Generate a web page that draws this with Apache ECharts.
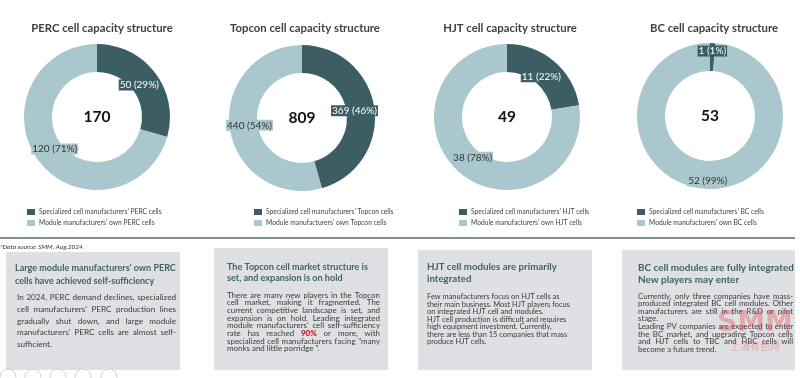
<!DOCTYPE html>
<html><head><meta charset="utf-8">
<script src="https://cdn.jsdelivr.net/npm/echarts@6/dist/echarts.min.js"></script>
<style>html,body{margin:0;padding:0;background:#fff}#c{width:800px;height:378px}</style>
</head><body><div id="c"></div>
<script>
// ---- data ----
const chartTitles = ['PERC cell capacity structure', 'Topcon cell capacity structure', 'HJT cell capacity structure', 'BC cell capacity structure'];
const specializedNames = ["Specialized cell manufacturers' PERC cells", "Specialized cell manufacturers' Topcon cells", "Specialized cell manufacturers' HJT cells", "Specialized cell manufacturers' BC cells"];
const moduleNames = ["Module manufacturers' own PERC cells", "Module manufacturers' own Topcon cells", "Module manufacturers' own HJT cells", "Module manufacturers' own BC cells"];
const specializedValues = [50, 369, 11, 0.6];
const moduleValues = [120, 440, 38, 52.4];
const dataSource = '*Data source: SMM, Aug.2024';

// ---- layout / style ----
const DARK = '#3b5d63', LIGHT = '#a9c7cc';
const centers = [[97, 117], [302, 118], [507, 117], [710, 116]];
const titleCenters = [97, 300, 505, 709];
const titleWidths = [140, 153, 133, 128];
const legendWidths = [123, 126, 120, 115];
const labelRadius = [[27, 73], [27, 73], [27, 73], [51, 73]];
const legendLeft = [27, 254, 459, 637];
const FONT = 'Lato';

const mctx = document.createElement('canvas').getContext('2d');
function tw(text, size, bold) { mctx.font = (bold ? 'bold ' : '') + size + 'px ' + FONT; return mctx.measureText(text).width; }
const sumArr = a => a.reduce((s, v) => s + v, 0);
const titleSize = 10 * sumArr(titleWidths) / sumArr(chartTitles.map(t => tw(t, 10, true)));
const legendSize = 10 * sumArr(legendWidths) / sumArr(specializedNames.map(t => tw(t, 10, false)));

const series = [], titles = [], legends = [], graphics = [];
chartTitles.forEach((t, i) => {
  titles.push({ text: t, left: titleCenters[i], top: 18, textAlign: 'center',
    textStyle: { fontFamily: FONT, fontSize: titleSize, fontWeight: 'bold', color: '#404040' } });
  const data = [
    { name: specializedNames[i], value: specializedValues[i], itemStyle: { color: DARK } },
    { name: moduleNames[i], value: moduleValues[i], itemStyle: { color: LIGHT } }
  ];
  series.push({ type: 'pie', center: centers[i], radius: [45, 73], startAngle: 90, clockwise: true,
    label: { show: false }, labelLine: { show: false }, silent: true, emphasis: { disabled: true },
    data: data });
  series.push({ type: 'pie', center: centers[i], radius: labelRadius[i], startAngle: 90, clockwise: true,
    silent: true, emphasis: { disabled: true }, avoidLabelOverlap: false, labelLine: { show: false },
    itemStyle: { color: 'rgba(0,0,0,0)' },
    label: { show: true, position: 'inside', fontFamily: FONT, fontSize: 10, padding: [1, 1, 0, 1],
      formatter: p => Math.round(p.value) + ' (' + Math.round(p.percent) + '%)' },
    data: [
      { name: specializedNames[i], value: specializedValues[i], label: { backgroundColor: DARK, color: '#fff' } },
      { name: moduleNames[i], value: moduleValues[i], label: { backgroundColor: LIGHT, color: '#333' } }
    ] });
  legends.push({ orient: 'vertical', left: legendLeft[i], top: 208, padding: 0, icon: 'rect', itemWidth: 8, itemHeight: 6,
    itemGap: 3, selectedMode: false,
    textStyle: { fontFamily: FONT, fontSize: legendSize, color: '#444', lineHeight: 8, padding: [0, 0, 0, -1] },
    data: [{ name: specializedNames[i], itemStyle: { color: DARK } }, { name: moduleNames[i], itemStyle: { color: LIGHT } }] });
  const total = Math.round(specializedValues[i] + moduleValues[i]);
  graphics.push({ type: 'text', x: centers[i][0], y: centers[i][1], style: { text: String(total), fontFamily: FONT,
    fontSize: 15.5, fontWeight: 'bold', fill: '#111', align: 'center', verticalAlign: 'middle' } });
});

// separator + source
graphics.push({ type: 'rect', shape: { x: 0, y: 237, width: 795, height: 2 }, style: { fill: '#7e9097' } });
graphics.push({ type: 'text', x: 0, y: 247, style: { text: dataSource, fontFamily: FONT, fontSize: 10 * 87 / tw(dataSource, 10, false),
  fontStyle: 'italic', fill: '#333', verticalAlign: 'middle' } });

// text boxes: lines ending a paragraph are marked with a trailing '|'
const boxes = [
  { x: 6, y: 252, w: 174, h: 118, tx: 15, tyy: [268, 281], tW: 161, bx: 17, bW: 159, justify: true,
    bys: [297, 309, 321, 332.5, 344],
    title: ["Large module manufacturers' own PERC", "cells have achieved self-sufficiency"],
    body: ["In 2024, PERC demand declines, specialized", "cell manufacturers' PERC production lines", "gradually shut down, and large module", "manufacturers' PERC cells are almost self-", "sufficient.|"] },
  { x: 214, y: 248, w: 174, h: 122, tx: 227, tyy: [267, 278.5], tW: 141, bx: 227, bW: 153, justify: true,
    bys: [295, 302.7, 310.4, 318.1, 325.8, 333.5, 341.2, 348.9],
    title: ["The Topcon cell market structure is", "set, and expansion is on hold"],
    body: ["There are many new players in the Topcon", "cell market, making it fragmented. The", "current competitive landscape is set, and", "expansion is on hold. Leading integrated", "module manufacturers' cell self-sufficiency", "rate has reached *90% or more, with", "specialized cell manufacturers facing \"many", "monks and little porridge \".|"] },
  { x: 418, y: 250, w: 174, h: 120, tx: 427, tyy: [267, 278.5], tW: 130, bx: 427, bW: 0, justify: false,
    refW: [134, 135, 114, 152, 122, 138, 64],
    bys: [297, 304.5, 312, 319.5, 327, 334.5, 342],
    title: ["HJT cell modules are primarily", "integrated"],
    body: ["Few manufacturers focus on HJT cells as", "their main business. Most HJT players focus", "on integrated HJT cell and modules.|", "HJT cell production is difficult and requires", "high equipment investment. Currently,", "there are less than 15 companies that mass", "produce HJT cells.|"] },
  { x: 622, y: 250, w: 173, h: 120, tx: 638, tyy: [268, 279.5], tW: 156, bx: 638, bW: 155, justify: true,
    bys: [296, 303.6, 311.2, 318.8, 326.4, 334, 341.6, 349.2],
    title: ["BC cell modules are fully integrated", "New players may enter"],
    body: ["Currently, only three companies have mass-", "produced integrated BC cell modules. Other", "manufacturers are still in the R&D or pilot", "stage.|", "Leading PV companies are expected to enter", "the BC market, and upgrading Topcon cells", "and HJT cells  to TBC and HBC cells  will", "become a future trend.|"] }
];
boxes.forEach(b => {
  graphics.push({ type: 'rect', shape: { x: b.x, y: b.y, width: b.w, height: b.h }, style: { fill: '#dfe0e4' } });
  const tSize = 10 * b.tW / tw(b.title[0], 10, true);
  b.title.forEach((ln, k) => graphics.push({ type: 'text', x: b.tx, y: b.tyy[k], style: { text: ln, fontFamily: FONT,
    fontSize: tSize, fontWeight: 'bold', fill: '#3e6168', verticalAlign: 'middle' } }));
  const clean = s => s.replace('|', '').replace('*', '');
  let bSize;
  if (b.justify) {
    const maxW = Math.max(...b.body.map(s => tw(clean(s), 10, false)));
    bSize = 10 * b.bW * 0.985 / maxW;
  } else {
    const m = b.body.map(s => tw(clean(s), 10, false));
    bSize = 10 * sumArr(m.map((v, k) => v * b.refW[k])) / sumArr(m.map(v => v * v));
  }
  b.body.forEach((ln, k) => {
    const last = ln.endsWith('|');
    const words = ln.replace('|', '').split(/\s+/).filter(Boolean);
    const ws = words.map(wd => tw(wd.replace('*', ''), bSize, wd.startsWith('*')));
    const sum = sumArr(ws);
    const space = tw(' ', bSize, false);
    const gap = (b.justify && !last && words.length > 1) ? (b.bW - sum) / (words.length - 1) : space;
    let x = b.bx;
    words.forEach((wd, j) => {
      const red = wd.startsWith('*');
      graphics.push({ type: 'text', x: x, y: b.bys[k], style: { text: wd.replace('*', ''), fontFamily: FONT,
        fontSize: bSize, fontWeight: red ? 'bold' : 'normal', fill: red ? '#c00000' : '#3a3a3a', verticalAlign: 'middle' } });
      x += ws[j] + gap;
    });
  });
});

// faint icons under first box
[8, 33, 58, 83, 109].forEach(cx => graphics.push({ type: 'circle', shape: { cx: cx, cy: 377, r: 8 },
  style: { fill: 'none', stroke: '#d4d4d4', lineWidth: 1 } }));

// watermark
graphics.push({ type: 'text', x: 755, y: 324, style: { text: 'SMM', fontFamily: 'DejaVu Sans', fontSize: 28,
  fontWeight: 'bold', fill: 'rgba(225,60,60,0.33)', align: 'center', verticalAlign: 'middle' } });
graphics.push({ type: 'text', x: 755, y: 346, style: { text: '上海有色网', fontFamily: 'Noto Sans CJK SC', fontSize: 10,
  fill: 'rgba(225,60,60,0.33)', align: 'center', verticalAlign: 'middle' } });

const chart = echarts.init(document.getElementById('c'), null, { renderer: 'canvas' });
chart.setOption({ animation: false, backgroundColor: '#fff', title: titles, legend: legends, series: series, graphic: graphics });
</script></body></html>
